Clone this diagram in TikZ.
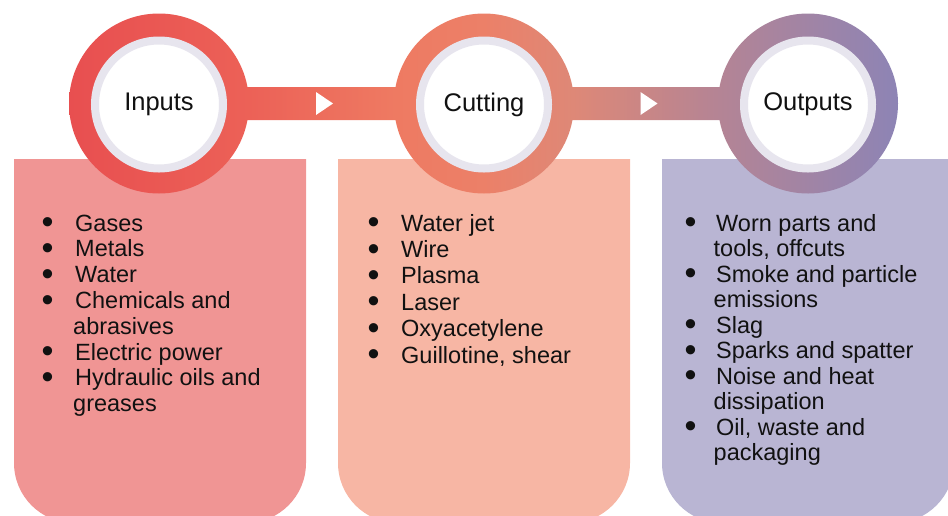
\documentclass[tikz,border=0pt]{standalone}
\usepackage{fontspec}
\setmainfont{Liberation Sans}
\usetikzlibrary{calc}

% palette
\definecolor{gA}{HTML}{E84F50}
\definecolor{gB}{HTML}{EC6157}
\definecolor{gC}{HTML}{EE7A62}
\definecolor{gD}{HTML}{EC8068}
\definecolor{gE}{HTML}{DE8877}
\definecolor{gF}{HTML}{B58494}
\definecolor{gG}{HTML}{8D84B5}
\definecolor{boxin}{HTML}{F09594}
\definecolor{boxcut}{HTML}{F7B6A4}
\definecolor{boxout}{HTML}{B9B5D3}
\definecolor{ringlav}{HTML}{E7E5EE}
\definecolor{inktext}{HTML}{111111}

% band gradient running across the three rings and the bar
\pgfdeclarehorizontalshading{bandgrad}{100bp}{%
  color(0bp)=(gA); color(25bp)=(gA); color(35.86bp)=(gB);
  color(44.66bp)=(gC); color(50bp)=(gD); color(55.4bp)=(gE);
  color(63.96bp)=(gF); color(75bp)=(gG); color(100bp)=(gG)}

% a larger bullet than the font's own
\newcommand\bigdot{\smash{\raisebox{-2.6pt}{\scalebox{1.45}{\textbullet}}}}
\newcommand\bitem[2]{\makebox[#1][l]{\bigdot}#2}
\newcommand\bcont[2]{\hspace*{#1}#2}

\tikzset{
  stagering/.style={circle, fill=white, draw=ringlav, line width=8pt,
    minimum size=128pt, inner sep=0pt, text=inktext,
    font=\fontsize{25.5}{30}\selectfont},
  listtext/.style={anchor=base west, inner sep=0pt, text=inktext, align=left},
}

\begin{document}
\begin{tikzpicture}[x=1pt, y=-1pt]
  \clip (0,0) rectangle (948,515);

  % column panels with rounded lower corners
  \foreach \lx/\col in {14/boxin, 338/boxcut, 662/boxout} {
    \fill[\col] (\lx,159) -- ({\lx+292},159) -- ({\lx+292},463)
      arc[start angle=0, end angle=-90, radius=60pt]
      -- ({\lx+60},523)
      arc[start angle=-90, end angle=-180, radius=60pt] -- cycle;
  }

  % ring centres
  \coordinate (p1) at (159,103.5);
  \coordinate (p2) at (484,103.5);
  \coordinate (p3) at (808,103.5);

  % gradient rings joined by the bar
  \shade[shading=bandgrad]
    (p1) circle[radius=90pt] (p2) circle[radius=90pt] (p3) circle[radius=90pt]
    ([yshift=-16.5pt]p1) -- ([yshift=-16.5pt]p3) -- ([yshift=16.5pt]p3)
    -- ([yshift=16.5pt]p1) -- cycle;

  % stage labels
  \node[stagering] (inputs)  at ([yshift=-1pt]p1) {Inputs};
  \node[stagering] (cutting) at ([yshift=-1pt]p2) {Cutting};
  \node[stagering] (outputs) at ([yshift=-1pt]p3) {Outputs};

  % direction marks on the bar
  \coordinate (m1) at ($(p1)!0.5!(p2)$);
  \coordinate (m2) at ($(p2)!0.5!(p3)$);
  \foreach \m in {m1, m2} {
    \fill[white] ([xshift=-5.5pt, yshift=11.5pt]\m) -- ([xshift=11.5pt]\m)
      -- ([xshift=-5.5pt, yshift=-11.5pt]\m) -- cycle;
  }

  % bullet lists
  \node[listtext, font=\fontsize{23.5}{25.8}\selectfont] (inlist) at (41.5,231) {%
    \begin{tabular}[t]{@{}l@{}}
      \bitem{33.5pt}{Gases}\\
      \bitem{33.5pt}{Metals}\\
      \bitem{33.5pt}{Water}\\
      \bitem{33.5pt}{Chemicals and}\\
      \bcont{31.5pt}{abrasives}\\
      \bitem{33.5pt}{Electric power}\\
      \bitem{33.5pt}{Hydraulic oils and}\\
      \bcont{31.5pt}{greases}
    \end{tabular}};

  \node[listtext, font=\fontsize{23.5}{26.4}\selectfont] (cutlist) at (367.5,231) {%
    \begin{tabular}[t]{@{}l@{}}
      \bitem{33.5pt}{Water jet}\\
      \bitem{33.5pt}{Wire}\\
      \bitem{33.5pt}{Plasma}\\
      \bitem{33.5pt}{Laser}\\
      \bitem{33.5pt}{Oxyacetylene}\\
      \bitem{33.5pt}{Guillotine, shear}
    \end{tabular}};

  \node[listtext, font=\fontsize{23.5}{25.5}\selectfont] (outlist) at (684.5,231) {%
    \begin{tabular}[t]{@{}l@{}}
      \bitem{31.5pt}{Worn parts and}\\
      \bcont{29pt}{tools, offcuts}\\
      \bitem{31.5pt}{Smoke and particle}\\
      \bcont{29pt}{emissions}\\
      \bitem{31.5pt}{Slag}\\
      \bitem{31.5pt}{Sparks and spatter}\\
      \bitem{31.5pt}{Noise and heat}\\
      \bcont{29pt}{dissipation}\\
      \bitem{31.5pt}{Oil, waste and}\\
      \bcont{29pt}{packaging}
    \end{tabular}};
\end{tikzpicture}
\end{document}
